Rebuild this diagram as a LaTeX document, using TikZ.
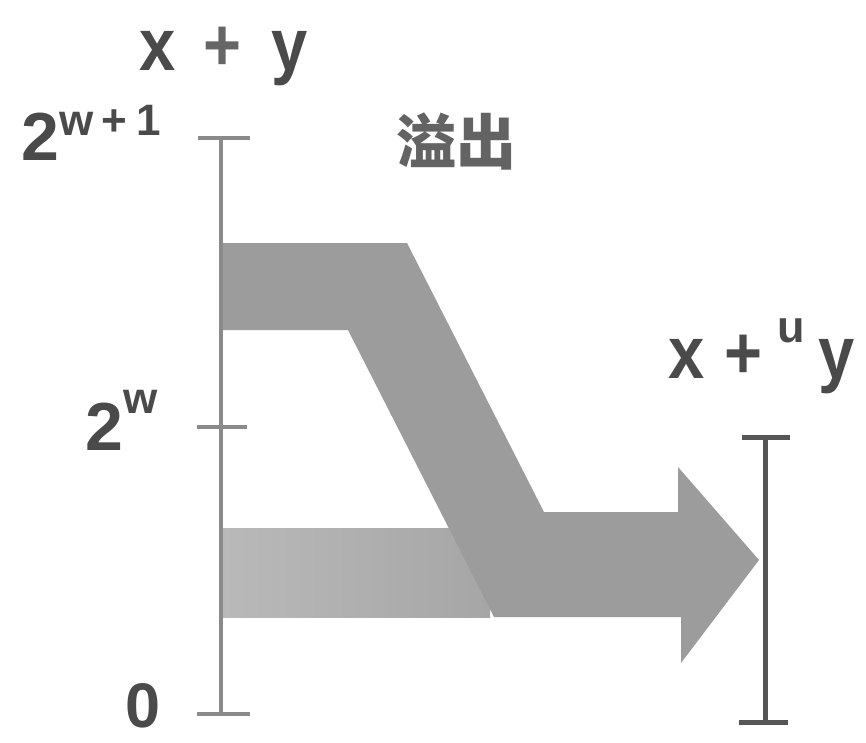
\documentclass[tikz,border=0pt]{standalone}
\usepackage{fontspec}
\newfontfamily\lab{Liberation Sans}[FakeStretch=0.88]
\newfontfamily\dig{Liberation Sans}
\newfontfamily\cjk{Noto Sans CJK SC}
\definecolor{txt}{HTML}{4A4A4A}
\definecolor{plusc}{HTML}{666666}
\definecolor{bandc}{HTML}{9C9C9C}
\definecolor{lowl}{HTML}{B9B9B9}
\definecolor{lowr}{HTML}{A6A6A6}
\definecolor{axisc}{HTML}{8A8A8A}
\definecolor{brkc}{HTML}{555555}
\definecolor{cjkc}{HTML}{636363}
\tikzset{
  bandmain/.style={fill=bandc, draw=none},
  bandlow/.style={left color=lowl, right color=lowr, draw=none},
  axisline/.style={draw=axisc, line width=4pt},
  brkline/.style={draw=brkc, line width=5pt},
  lbl/.style={inner sep=0pt, text=txt, font=\lab\bfseries},
  diglbl/.style={inner sep=0pt, text=txt, anchor=base west, font=\dig\bfseries\fontsize{68}{72}\selectfont},
}
\begin{document}
\begin{tikzpicture}[x=1pt,y=-1pt]
\useasboundingbox[fill=white] (0,0) rectangle (866,742);
% lower band
\path[bandlow] (222,528) rectangle (490,617);
% upper band + diagonal + merged arrow
\path[bandmain] (222,243) -- (407,243) -- (544,512) -- (678,512) -- (678,467)
  -- (759,560) -- (681,663) -- (681,617) -- (494,617) -- (348,330) -- (222,330) -- cycle;
% left axis
\coordinate (axtop) at (221,138);
\coordinate (axw) at (221,427);
\coordinate (axzero) at (221,714);
\draw[axisline] (axtop) -- (axzero);
\draw[axisline] ([xshift=-23pt]axtop) -- ([xshift=29pt]axtop);
\draw[axisline] ([xshift=-24pt]axw) -- ([xshift=26pt]axw);
\draw[axisline] ([xshift=-24pt]axzero) -- ([xshift=29pt]axzero);
% right bracket
\coordinate (brtop) at (765,437);
\coordinate (brbot) at (765,722);
\draw[brkline] (brtop) -- (brbot);
\draw[brkline] ([xshift=-23pt]brtop) -- ([xshift=25pt]brtop);
\draw[brkline] ([xshift=-26pt]brbot) -- ([xshift=23pt]brbot);
% labels
\node[lbl, anchor=base west, font=\lab\bfseries\fontsize{74}{80}\selectfont] (xy) at (139,70)
  {x\hspace{28pt}{\color{plusc}+}\hspace{30pt}y};
\node[diglbl] (tw1) at (21,160)
  {2\raisebox{25pt}{\fontsize{44}{44}\selectfont w\hspace{8pt}+\hspace{10pt}1}};
\node[diglbl] (tw) at (85,450)
  {2\raisebox{37pt}{\fontsize{44}{44}\selectfont w}};
\node[diglbl, font=\dig\bfseries\fontsize{63}{66}\selectfont] (tz) at (125,727) {0};
\node[lbl, anchor=base west, font=\lab\bfseries\fontsize{74}{80}\selectfont] (xuy) at (668,378)
  {x\hspace{20pt}+\hspace{15pt}\raisebox{36pt}{\dig\fontsize{45}{45}\selectfont u}\hspace{14pt}y};
\node[inner sep=0pt, anchor=west, text=cjkc, font=\cjk\bfseries\fontsize{60}{60}\selectfont] (ovf) at (396,141) {溢出};
\end{tikzpicture}
\end{document}
